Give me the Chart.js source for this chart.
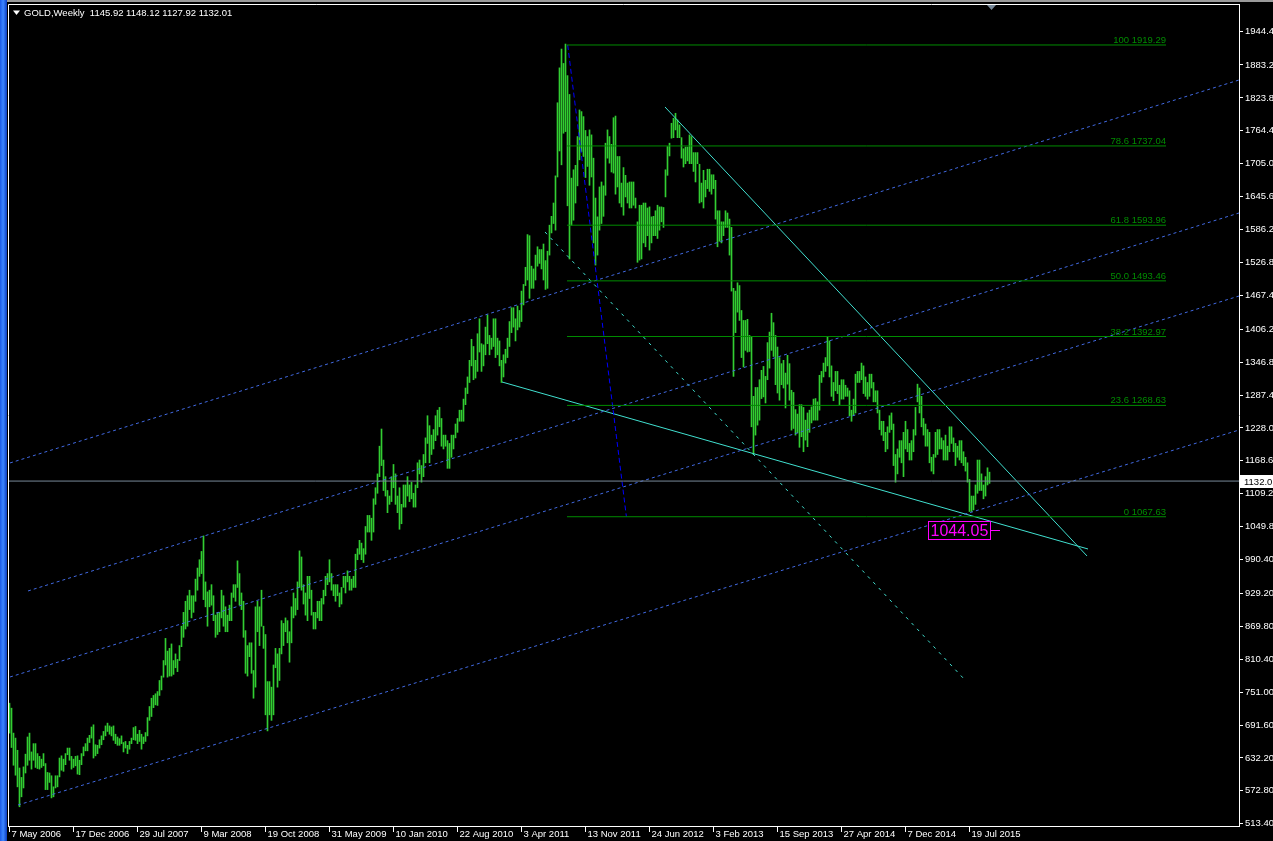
<!DOCTYPE html>
<html>
<head>
<meta charset="utf-8">
<title>GOLD,Weekly</title>
<script src="https://cdn.jsdelivr.net/npm/chart.js@4.4.1/dist/chart.umd.min.js"></script>
<style>
  html, body { margin: 0; padding: 0; background: #000; overflow: hidden; }
  canvas { display: block; }
</style>
</head>
<body>
<canvas id="chart" width="1273" height="841"></canvas>
<script>
const FONT = '"Liberation Sans", Arial, sans-serif';

// header
const symbolTitle = 'GOLD,Weekly';
const lastOHLC = ['1145.92', '1148.12', '1127.92', '1132.01'];

// time axis: bar index (weekly, 7 May 2006 = 0) and its labels
const dateTickIdx = [0, 32, 64, 96, 128, 160, 192, 224, 256, 288, 320, 352, 384, 416, 448, 480];
const dateTickLabels = ['7 May 2006', '17 Dec 2006', '29 Jul 2007', '9 Mar 2008', '19 Oct 2008', '31 May 2009',
  '10 Jan 2010', '22 Aug 2010', '3 Apr 2011', '13 Nov 2011', '24 Jun 2012', '3 Feb 2013', '15 Sep 2013',
  '27 Apr 2014', '7 Dec 2014', '19 Jul 2015'];

// price axis
const priceTickValues = [1944.4, 1883.2, 1823.8, 1764.4, 1705.0, 1645.6, 1586.2, 1526.8, 1467.4, 1406.2, 1346.8,
  1287.4, 1228.0, 1168.6, 1109.2, 1049.8, 990.4, 929.2, 869.8, 810.4, 751.0, 691.6, 632.2, 572.8, 513.4];
const priceTickLabels = ['1944.4', '1883.2', '1823.8', '1764.4', '1705.0', '1645.6', '1586.2', '1526.8', '1467.4',
  '1406.2', '1346.8', '1287.4', '1228.0', '1168.6', '1109.2', '1049.8', '990.40', '929.20', '869.80', '810.40',
  '751.00', '691.60', '632.20', '572.80', '513.40'];

// weekly bars: [low, high]
const weeklyLowHigh = [
  [677,731],[651,722],[619,677],[601,668],[580,646],[544,614],[562,597],[578,616],
  [605,639],[619,670],[628,677],[612,643],[628,658],[615,658],[613,640],[612,635],
  [615,630],[618,640],[575,622],[575,606],[588,605],[560,600],[562,580],[578,600],
  [580,600],[598,632],[610,636],[608,630],[620,640],[638,650],[628,650],[612,635],
  // Dec 2006
  [615,630],[618,635],[603,636],[602,628],[620,640],[636,652],[645,658],[645,668],
  [660,673],[668,688],[632,692],[636,656],[640,655],[650,665],[656,672],[665,680],
  [672,690],[680,695],[675,690],[672,688],[664,690],[658,675],[655,670],[655,667],
  [658,672],[643,660],[650,662],[640,655],[648,662],[658,668],[665,687],[664,689],
  // Jul 2007
  [658,675],[662,682],[648,675],[658,670],[662,678],[672,705],[700,725],[707,740],
  [723,745],[728,748],[727,752],[745,772],[755,780],[778,808],[800,848],[778,825],
  [780,830],[780,838],[783,808],[795,820],[788,810],[808,835],[833,870],[850,895],
  [865,915],[870,925],[900,935],[885,925],[895,925],[915,955],[935,975],[960,990],
  // Mar 2008
  [965,1005],[918,1033],[905,950],[870,932],[905,935],[908,945],[880,925],[850,890],
  [855,895],[860,895],[885,935],[870,925],[860,905],[860,890],[880,908],[880,930],
  [922,945],[915,945],[940,988],[908,965],[900,930],[850,915],[785,862],[780,835],
  [815,840],[785,840],[740,790],[760,905],[860,915],[835,905],[870,935],[830,870],
  // Oct 2008
  [710,855],[681,770],[710,770],[700,760],[710,800],[795,830],[760,820],[772,830],
  [820,880],[835,875],[860,885],[840,880],[805,860],[840,905],[885,930],[890,920],
  [900,950],[940,1006],[935,995],[910,945],[890,930],[880,960],[920,960],[890,935],
  [865,895],[865,895],[885,915],[880,915],[880,920],[910,935],[925,960],[945,965],
  // May 2009
  [950,990],[935,965],[925,945],[915,945],[925,945],[905,930],[910,940],[940,960],
  [930,960],[950,970],[935,960],[935,955],[940,960],[940,1000],[990,1010],[1000,1025],
  [990,1020],[985,1010],[1000,1050],[1040,1070],[1040,1070],[1025,1065],[1040,1100],[1090,1120],
  [1110,1145],[1140,1195],[1160,1226],[1115,1170],[1105,1140],[1075,1115],[1090,1105],[1095,1140],
  // Jan 2010
  [1120,1162],[1090,1145],[1075,1105],[1045,1120],[1055,1090],[1085,1125],[1085,1125],[1105,1140],
  [1095,1125],[1100,1130],[1085,1110],[1085,1125],[1120,1165],[1145,1170],[1130,1160],[1140,1180],
  [1165,1210],[1200,1250],[1165,1232],[1180,1215],[1190,1225],[1205,1250],[1215,1260],[1230,1265],
  [1195,1245],[1190,1215],[1195,1215],[1155,1205],[1155,1200],[1175,1215],[1190,1215],[1210,1235],
  // Aug 2010
  [1220,1245],[1240,1260],[1240,1260],[1240,1280],[1270,1300],[1290,1320],[1310,1350],[1340,1388],
  [1315,1375],[1318,1350],[1330,1398],[1365,1425],[1330,1380],[1340,1378],[1360,1410],[1380,1432],
  [1360,1395],[1370,1390],[1375,1425],[1355,1425],[1360,1390],[1340,1385],[1310,1350],[1320,1360],
  [1345,1370],[1355,1390],[1375,1420],[1400,1445],[1410,1445],[1385,1425],[1405,1448],[1410,1440],
  // Apr 2011
  [1420,1475],[1450,1487],[1485,1518],[1495,1577],[1462,1575],[1480,1520],[1480,1515],[1495,1540],
  [1520,1555],[1525,1550],[1515,1550],[1495,1560],[1478,1530],[1480,1547],[1540,1594],[1580,1610],
  [1597,1634],[1585,1683],[1681,1815],[1728,1878],[1703,1912],[1760,1886],[1763,1921],[1629,1864],
  [1533,1830],[1594,1679],[1603,1694],[1634,1702],[1665,1754],[1712,1802],[1727,1799],[1718,1790],
  // Nov 2011
  [1680,1765],[1700,1754],[1666,1766],[1681,1757],[1562,1715],[1522,1643],[1540,1609],[1585,1663],
  [1597,1672],[1610,1665],[1648,1742],[1715,1766],[1706,1754],[1690,1740],[1688,1788],[1650,1791],
  [1663,1718],[1634,1718],[1627,1670],[1612,1698],[1645,1684],[1634,1670],[1625,1672],[1625,1672],
  [1630,1672],[1625,1643],[1527,1600],[1531,1630],[1533,1630],[1562,1634],[1555,1634],[1575,1625],
  // Jun 2012
  [1549,1627],[1562,1609],[1575,1610],[1575,1620],[1570,1630],[1585,1627],[1600,1627],[1590,1626],
  [1645,1694],[1684,1736],[1719,1742],[1751,1778],[1752,1787],[1766,1796],[1752,1784],[1752,1775],
  [1715,1752],[1699,1732],[1705,1735],[1710,1735],[1705,1757],[1705,1754],[1691,1725],[1672,1725],
  [1705,1725],[1634,1704],[1636,1670],[1625,1693],[1645,1675],[1660,1695],[1655,1695],[1650,1685],
  // Feb 2013
  [1660,1685],[1605,1675],[1555,1620],[1565,1620],[1562,1600],[1575,1600],[1590,1620],[1590,1616],
  [1540,1605],[1475,1590],[1321,1480],[1400,1475],[1437,1490],[1422,1485],[1355,1440],[1338,1422],
  [1368,1422],[1365,1424],[1366,1395],[1230,1393],[1180,1285],[1215,1301],[1233,1301],[1242,1315],
  [1281,1332],[1284,1339],[1273,1321],[1315,1382],[1336,1401],[1368,1435],[1357,1418],[1306,1395],
  // Sep 2013
  [1291,1374],[1278,1355],[1306,1344],[1300,1350],[1264,1327],[1307,1359],[1278,1344],[1224,1296],
  [1227,1292],[1215,1261],[1219,1253],[1193,1270],[1212,1270],[1185,1265],[1206,1242],[1194,1255],
  [1220,1260],[1237,1266],[1242,1280],[1242,1281],[1242,1275],[1260,1323],[1310,1330],[1320,1345],
  [1330,1355],[1340,1392],[1320,1385],[1285,1340],[1277,1310],[1295,1330],[1290,1330],[1270,1305],
  // Apr 2014
  [1280,1315],[1280,1315],[1285,1305],[1285,1300],[1250,1295],[1240,1260],[1250,1280],[1255,1325],
  [1310,1330],[1310,1330],[1315,1345],[1290,1340],[1285,1320],[1280,1310],[1285,1325],[1300,1325],
  [1275,1310],[1275,1295],[1255,1295],[1225,1260],[1215,1240],[1205,1240],[1185,1220],[1190,1230],
  [1220,1250],[1225,1255],[1160,1235],[1130,1180],[1145,1190],[1175,1205],[1165,1205],[1140,1220],
  // Dec 2014
  [1190,1240],[1185,1225],[1170,1200],[1170,1205],[1185,1225],[1215,1265],[1275,1307],[1255,1300],
  [1230,1285],[1215,1245],[1195,1235],[1195,1225],[1165,1220],[1150,1175],[1145,1180],[1175,1220],
  [1180,1225],[1190,1225],[1190,1210],[1170,1205],[1170,1215],[1170,1195],[1185,1230],[1200,1230],
  [1185,1210],[1160,1200],[1175,1195],[1170,1205],[1165,1205],[1160,1185],[1150,1175],[1130,1165],
  // Jul 2015
  [1077,1135],[1077,1105],[1080,1105],[1090,1125],[1110,1170],[1115,1170],[1115,1145],[1100,1125],
  [1105,1140],[1125,1156],[1127.92,1148.12]
];

const currentPrice = 1132.01;

// fibonacci retracement
const fibLevels = ['100', '78.6', '61.8', '50.0', '38.2', '23.6', '0'];
const fibPrices = [1919.29, 1737.04, 1593.96, 1493.46, 1392.97, 1268.63, 1067.63];
const fibSpan = [278.75, 578.25];
const fibAnchors = [[279.1, 1919.29], [308.45, 1067.63]];

// blue dotted channel lines [[idx, price], [idx, price]]
const channelLines = [
  [[0.25, 1164.7], [614.75, 1856.1]],
  [[9.25, 933.6], [614.75, 1616.0]],
  [[0.25, 778.3], [614.75, 1466.1]],
  [[4.25, 547.2], [614.75, 1224.2]]
];
// turquoise wedge lines
const wedgeSupport = [[246.25, 1310.9], [539.25, 1009.4]];
const wedgeResistance = [[327.75, 1807.4], [538.75, 996.8]];
const wedgeDotted = [[267.75, 1581.7], [477.75, 772.9]];

// price mark
const markText = '1044.05';
const markPrice = 1044.05;
const markIdx = [459.4, 495.25];

const X_MIN = -0.75, X_MAX = 614.75;
const Y_MIN = 509.3, Y_MAX = 1993.3;

const BAR_COLOR = '#32cd32';
const FIB_COLOR = '#008c00';
const CHANNEL_COLOR = '#4169e1';
const WEDGE_COLOR = '#40e0d0';

Chart.defaults.font.family = FONT;
Chart.defaults.font.size = 9.5;
Chart.defaults.color = '#ffffff';

function seg(points, color, dash) {
  return {
    type: 'line',
    data: points.map(([x, y]) => ({ x, y })),
    borderColor: color,
    borderWidth: 1,
    borderDash: dash || [],
    pointRadius: 0,
    fill: false,
    tension: 0,
    order: 1
  };
}

const datasets = [];
datasets.push({
  type: 'bar',
  data: weeklyLowHigh.map((r, i) => ({ x: i, y: [r[0], r[1]] })),
  backgroundColor: BAR_COLOR,
  borderWidth: 0,
  barThickness: 1,
  grouped: false,
  order: 5
});
datasets.push(seg([[X_MIN, currentPrice], [X_MAX, currentPrice]], '#778899'));
fibPrices.forEach(p => datasets.push(seg([[fibSpan[0], p], [fibSpan[1], p]], FIB_COLOR)));
datasets.push(seg(fibAnchors, '#0000ff', [5, 3]));
channelLines.forEach(l => datasets.push(seg(l, CHANNEL_COLOR, [3, 3])));
datasets.push(seg(wedgeSupport, WEDGE_COLOR));
datasets.push(seg(wedgeResistance, WEDGE_COLOR));
datasets.push(seg(wedgeDotted, WEDGE_COLOR, [3, 5]));

const overlay = {
  id: 'overlay',
  beforeDraw(chart) {
    const ctx = chart.ctx;
    ctx.save();
    ctx.fillStyle = '#000';
    ctx.fillRect(0, 0, chart.width, chart.height);
    const g = ctx.createLinearGradient(0, 0, 7, 0);
    g.addColorStop(0, '#1c5ae6');
    g.addColorStop(0.45, '#3d86ff');
    g.addColorStop(1, '#0b3cc0');
    ctx.fillStyle = g;
    ctx.fillRect(0, 0, 7, chart.height);
    ctx.fillStyle = '#9a9a9a';
    ctx.fillRect(7, 0, chart.width - 7, 2);
    ctx.restore();
  },
  afterDatasetsDraw(chart) {
    const { ctx, scales: { x, y } } = chart;
    ctx.save();
    // fib level captions
    ctx.font = `9.5px ${FONT}`;
    ctx.fillStyle = FIB_COLOR;
    ctx.textAlign = 'right';
    ctx.textBaseline = 'alphabetic';
    const xr = x.getPixelForValue(fibSpan[1]);
    fibPrices.forEach((p, i) => {
      ctx.fillText(`${fibLevels[i]} ${p.toFixed(2)}`, xr, Math.round(y.getPixelForValue(p)) - 2);
    });
    // 1044.05 mark
    const mx = Math.round(x.getPixelForValue(markIdx[0])) + 0.5;
    const my = Math.round(y.getPixelForValue(markPrice)) + 0.5;
    ctx.font = `16px ${FONT}`;
    const bw = Math.round(ctx.measureText(markText).width + 4);
    const bh = 18;
    ctx.fillStyle = '#000';
    ctx.fillRect(mx, my - bh / 2, bw, bh);
    ctx.strokeStyle = '#ff00ff';
    ctx.lineWidth = 1;
    ctx.strokeRect(mx, my - bh / 2, bw, bh);
    ctx.fillStyle = '#ff00ff';
    ctx.textAlign = 'left';
    ctx.textBaseline = 'middle';
    ctx.fillText(markText, mx + 2, my + 1);
    ctx.beginPath();
    ctx.moveTo(mx + bw, my);
    ctx.lineTo(x.getPixelForValue(markIdx[1]), my);
    ctx.stroke();
    ctx.restore();
  },
  afterDraw(chart) {
    const { ctx, chartArea: a, scales: { y } } = chart;
    ctx.save();
    ctx.strokeStyle = '#ffffff';
    ctx.lineWidth = 1;
    ctx.beginPath();
    ctx.moveTo(a.left + 0.5, a.bottom);
    ctx.lineTo(a.left + 0.5, a.top + 0.5);
    ctx.lineTo(a.right, a.top + 0.5);
    ctx.stroke();
    // current price box on the axis
    const py = Math.round(y.getPixelForValue(currentPrice));
    ctx.fillStyle = '#ffffff';
    ctx.fillRect(a.right + 1, py - 6, chart.width - a.right - 1, 13);
    ctx.fillStyle = '#000';
    ctx.font = `9.5px ${FONT}`;
    ctx.textAlign = 'left';
    ctx.textBaseline = 'middle';
    ctx.fillText(currentPrice.toFixed(1), a.right + 5, py + 1);
    // header
    ctx.fillStyle = '#ffffff';
    ctx.beginPath();
    ctx.moveTo(13, 10.5); ctx.lineTo(20, 10.5); ctx.lineTo(16.5, 15); ctx.closePath();
    ctx.fill();
    ctx.fillText(`${symbolTitle}  ${lastOHLC.join(' ')}`, 24, 13);
    // chart shift marker
    ctx.fillStyle = '#778899';
    ctx.beginPath();
    ctx.moveTo(987, 5); ctx.lineTo(996, 5); ctx.lineTo(991.5, 10); ctx.closePath();
    ctx.fill();
    ctx.restore();
  }
};

new Chart(document.getElementById('chart'), {
  type: 'bar',
  data: { datasets },
  options: {
    responsive: false,
    devicePixelRatio: 1,
    animation: false,
    events: [],
    layout: { padding: { left: 8, top: 4, right: 0, bottom: 0 } },
    plugins: { legend: { display: false }, tooltip: { enabled: false } },
    scales: {
      x: {
        type: 'linear',
        min: X_MIN,
        max: X_MAX,
        offset: false,
        grid: { display: true, offset: false, drawOnChartArea: false, drawTicks: true, tickLength: 6, color: '#ffffff' },
        border: { display: true, color: '#ffffff' },
        ticks: {
          autoSkip: false, maxRotation: 0, align: 'start', labelOffset: 2, padding: -3,
          color: '#ffffff',
          callback: (v, i) => dateTickLabels[i]
        },
        afterBuildTicks: s => { s.ticks = dateTickIdx.map(v => ({ value: v })); },
        afterFit: s => { s.height = 15; s.paddingLeft = 0; s.paddingRight = 0; }
      },
      y: {
        type: 'linear',
        position: 'right',
        min: Y_MIN,
        max: Y_MAX,
        beginAtZero: false,
        grid: { display: true, drawOnChartArea: false, drawTicks: true, tickLength: 4, color: '#ffffff' },
        border: { display: true, color: '#ffffff' },
        ticks: {
          autoSkip: false, padding: 2, color: '#ffffff',
          callback: (v, i) => priceTickLabels[i]
        },
        afterBuildTicks: s => { s.ticks = priceTickValues.map(v => ({ value: v })); },
        afterFit: s => { s.width = 34; s.paddingTop = 0; s.paddingBottom = 0; }
      }
    }
  },
  plugins: [overlay]
});
</script>
</body>
</html>
